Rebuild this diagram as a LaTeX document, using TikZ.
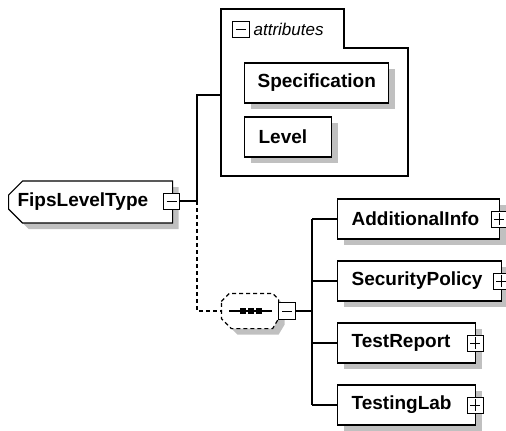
\documentclass[tikz,border=0pt]{standalone}
\usepackage{fontspec}
\setmainfont{Liberation Sans}
\usetikzlibrary{shapes.misc, shadows}
\definecolor{ShadowGray}{RGB}{192, 192, 192}

\begin{document}
\begin{tikzpicture}[x=1pt, y=-1pt, line width=1.2pt, font=\fontsize{19}{22}\selectfont\bfseries,
  shadebox/.style={draw, fill=white, drop shadow={shadow xshift=6pt, shadow yshift=-6pt, fill=ShadowGray, opacity=1}},
  elem/.style={shadebox, rectangle, anchor=west, minimum height=40pt, inner xsep=14pt, align=left},
  toggle/.style={draw, fill=white, minimum size=16pt, inner sep=0pt, line width=1pt},
  dotted link/.style={dash pattern=on 4pt off 3pt}]
  \useasboundingbox (0,0) rectangle (506,431);

  % root element
  \node[shadebox, chamfered rectangle, chamfered rectangle corners={north west,south west},
        chamfered rectangle sep=7pt, anchor=west, minimum height=42pt, text width=146pt,
        inner xsep=2pt, align=left] (fips) at (8,202) {FipsLevelType};
  \node[toggle] (fipsminus) at (171.5,201) {};

  % attribute group
  \draw[fill=white] (221,176) -- (221,9) -- (344,9) -- (344,48) -- (408,48) -- (408,176) -- cycle;
  \coordinate (attr) at (221,95);
  \node[toggle, minimum width=17pt] (attrminus) at (241,29) {};
  \node[anchor=west, inner sep=0pt, font=\fontsize{17}{20}\selectfont\itshape] (attrlabel) at (253,29) {attributes};
  \node[elem, text width=118pt, inner xsep=13pt] (spec) at (244,83) {Specification};
  \node[elem, text width=59pt] (level) at (244,137) {Level};

  % sequence compositor
  \node[minimum width=56pt, minimum height=34pt, inner sep=0pt] (seq) at (250,311) {};
  \draw[shadebox, dotted link] ([yshift=-8pt]seq.north west) -- ([xshift=8pt]seq.north west)
    -- ([xshift=-6pt]seq.north east) -- ([yshift=-6pt]seq.north east)
    -- ([yshift=10pt]seq.south east) -- ([xshift=-6pt]seq.south east)
    -- ([xshift=10pt]seq.south west) -- ([yshift=10pt]seq.south west) -- cycle;
  \draw ([xshift=-21pt]seq.center) -- ([xshift=22pt]seq.center);
  \foreach \x [count=\i] in {243,251,259}
    \node[fill, minimum size=6pt, inner sep=0pt] (dot\i) at (\x,311) {};
  \node[toggle, minimum size=17pt] (seqminus) at (287,311) {};

  % child elements
  \node[elem, text width=134pt] (addinfo) at (337,219) {AdditionalInfo};
  \node[elem, text width=136pt] (secpol) at (337,281) {SecurityPolicy};
  \node[elem, text width=110pt] (testrep) at (337,343) {TestReport};
  \node[elem, text width=110pt] (testlab) at (337,405) {TestingLab};

  \foreach \n in {addinfo,secpol,testrep,testlab}
    \node[toggle] (\n plus) at ([xshift=-1pt]\n.east) {};

  % signs
  \foreach \n in {fipsminus,attrminus,seqminus,addinfoplus,secpolplus,testrepplus,testlabplus}
    \draw[line width=1pt] ([xshift=-5pt]\n.center) -- ([xshift=5pt]\n.center);
  \foreach \n in {addinfoplus,secpolplus,testrepplus,testlabplus}
    \draw[line width=1pt] ([yshift=-6pt]\n.center) -- ([yshift=6pt]\n.center);

  % connectors
  \coordinate (fork) at (197,201);
  \coordinate (trunk) at (312,311);
  \draw (fipsminus.east) -- (fork) |- (attr);
  \draw[dotted link] (fork) |- (seq.west);
  \draw (seqminus.east) -- (trunk);
  \draw (trunk|-addinfo.west) -- (trunk|-testlab.west);
  \foreach \n in {addinfo,secpol,testrep,testlab}
    \draw (trunk|-\n.west) -- (\n.west);
\end{tikzpicture}
\end{document}
